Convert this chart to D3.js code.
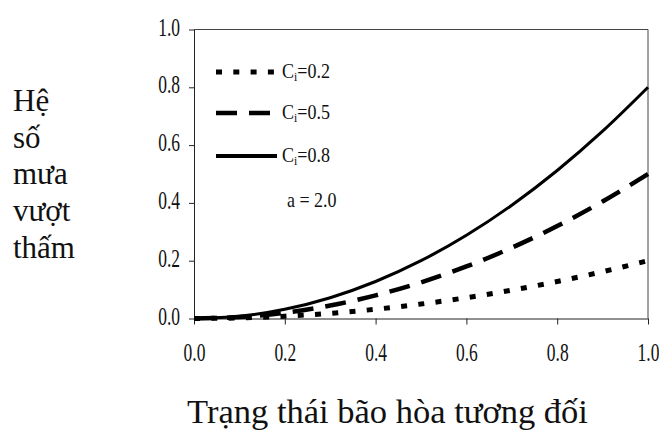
<!DOCTYPE html>
<html>
<head>
<meta charset="utf-8">
<script src="https://cdn.jsdelivr.net/npm/d3@7"></script>
<style>
    body { margin: 0; background: #fff; }
    text { font-family: "Liberation Serif", "Times New Roman", serif; fill: #111; }
</style>
</head>
<body>
<svg id="chart" width="659" height="433"></svg>
<script>
// values (a = 2.0)
var xValues = [0, 0.1, 0.2, 0.3, 0.4, 0.5, 0.6, 0.7, 0.8, 0.9, 1.0];
var c02 = [0, 0.002, 0.008, 0.018, 0.032, 0.05, 0.072, 0.098, 0.128, 0.162, 0.2];
var c05 = [0, 0.005, 0.02, 0.045, 0.08, 0.125, 0.18, 0.245, 0.32, 0.405, 0.5];
var c08 = [0, 0.008, 0.032, 0.072, 0.128, 0.2, 0.288, 0.392, 0.512, 0.648, 0.8];
var seriesNames = ['0.2', '0.5', '0.8'];
var tickValues = [0, 0.2, 0.4, 0.6, 0.8, 1.0];
var yTitleLines = ['Hệ', 'số', 'mưa', 'vượt', 'thấm'];
var xTitle = 'Trạng thái bão hòa tương đối';

(function () {
    var svg = d3.select('#chart'),
        left = 194, right = 648, top = 29.5, bottom = 318.5,
        x = d3.scaleLinear().domain([0, 1]).range([left, right]),
        y = d3.scaleLinear().domain([0, 1]).range([bottom, top]),
        sx = 0.7,   // tick labels are a condensed serif
        lx = 0.9,
        styles = [
            {width: 5, dash: '6,11.3'},
            {width: 4.5, dash: '21,12'},
            {width: 3, dash: null}
        ],
        series = [c02, c05, c08],
        line,
        legend,
        g;

    // frame top + right
    svg.append('path')
        .attr('d', 'M' + left + ',' + top + 'H' + right + 'V' + bottom)
        .attr('fill', 'none')
        .attr('stroke', '#444')
        .attr('stroke-width', 1);

    // axes
    g = svg.append('g').attr('transform', 'translate(0,' + bottom + ')')
        .call(d3.axisBottom(x).tickValues(tickValues).tickFormat(d3.format('.1f')).tickSizeOuter(0).tickSizeInner(6).tickPadding(0));
    g.selectAll('text')
        .attr('font-size', 25)
        .attr('y', 43)
        .attr('dy', 0)
        .attr('transform', 'scale(' + sx + ',1)');

    g = svg.append('g').attr('transform', 'translate(' + left + ',0)')
        .call(d3.axisLeft(y).tickValues(tickValues).tickFormat(d3.format('.1f')).tickSizeOuter(0).tickSizeInner(5));
    g.selectAll('text')
        .attr('font-size', 25)
        .attr('x', -14 / sx)
        .attr('dy', '0.22em')
        .attr('transform', 'scale(' + sx + ',1)');

    svg.selectAll('.domain').attr('stroke', '#222');
    svg.selectAll('.tick line').attr('stroke', '#222');

    // curves
    line = d3.line()
        .x(function (d, i) { return x(xValues[i]); })
        .y(function (d) { return y(d); })
        .curve(d3.curveMonotoneX);

    series.forEach(function (s, i) {
        svg.append('path')
            .datum(s)
            .attr('d', line)
            .attr('fill', 'none')
            .attr('stroke', '#000')
            .attr('stroke-width', styles[i].width)
            .attr('stroke-dasharray', styles[i].dash);
    });

    // legend
    legend = svg.append('g');
    [72, 113, 156].forEach(function (ly, i) {
        legend.append('line')
            .attr('x1', 216).attr('x2', 277)
            .attr('y1', ly).attr('y2', ly)
            .attr('stroke', '#000')
            .attr('stroke-width', styles[i].width === 3 ? 4 : styles[i].width)
            .attr('stroke-dasharray', styles[i].dash);
        var t = legend.append('text')
            .attr('x', 282 / lx).attr('y', ly + 6)
            .attr('font-size', 20)
            .attr('transform', 'scale(' + lx + ',1)');
        t.append('tspan').text('C');
        t.append('tspan').attr('font-size', 13).attr('dy', 3).text('i');
        t.append('tspan').attr('dy', -3).text('=' + seriesNames[i]);
    });
    legend.append('text')
        .attr('x', 287 / lx).attr('y', 207)
        .attr('font-size', 20)
        .attr('transform', 'scale(' + lx + ',1)')
        .text('a = 2.0');

    // titles
    svg.append('g').selectAll('text')
        .data(yTitleLines)
        .enter().append('text')
        .attr('x', 13)
        .attr('y', function (d, i) { return 111 + i * 36.7; })
        .attr('font-size', 31)
        .text(function (d) { return d; });

    svg.append('text')
        .attr('x', 387.5).attr('y', 423)
        .attr('text-anchor', 'middle')
        .attr('font-size', 34.5)
        .text(xTitle);
}());
</script>
</body>
</html>
